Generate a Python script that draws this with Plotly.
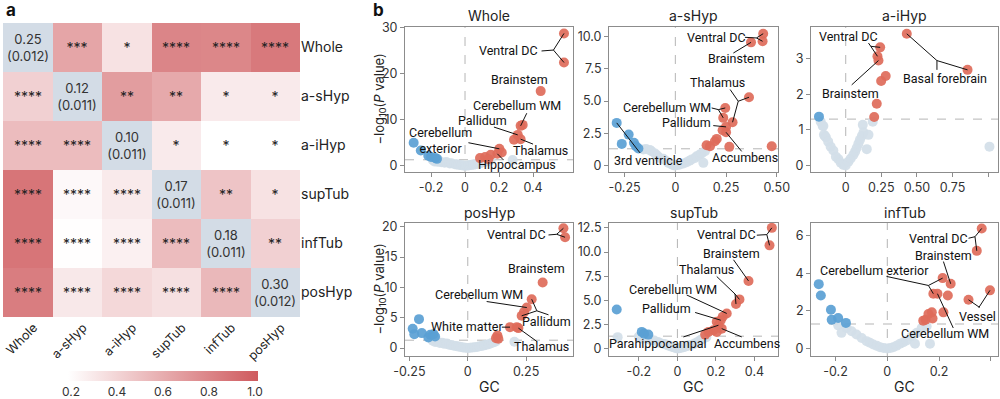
import plotly.graph_objects as go

# ================= Panel a : pairwise heatmap =================
regions = ["Whole", "a-sHyp", "a-iHyp", "supTub", "infTub", "posHyp"]
gen_corr = [
    [None, 0.64, 0.33, 0.80, 0.79, 0.86],
    [0.42, None, 0.68, 0.62, 0.29, 0.29],
    [0.52, 0.52, None, 0.29, 0.18, 0.18],
    [0.88, 0.22, 0.29, None, 0.48, 0.33],
    [0.88, 0.19, 0.26, 0.52, None, 0.42],
    [0.84, 0.30, 0.38, 0.34, 0.54, None],
]
signif = [
    ["", "***", "*", "****", "****", "****"],
    ["****", "", "**", "**", "*", "*"],
    ["****", "****", "", "*", "*", "*"],
    ["****", "****", "****", "", "**", "*"],
    ["****", "****", "****", "****", "", "**"],
    ["****", "****", "****", "****", "****", ""],
]
h2_est = ["0.25", "0.12", "0.10", "0.17", "0.18", "0.30"]
h2_se = ["0.012", "0.011", "0.011", "0.011", "0.011", "0.012"]
cbar_ticks = [0.2, 0.4, 0.6, 0.8, 1.0]

# ================= Panel b : volcano plots =================
panel_names = ["Whole", "a-sHyp", "a-iHyp", "posHyp", "supTub", "infTub"]

# --- Whole
whole_up_gc = [0.582, 0.582, 0.445, 0.327, 0.339, 0.31, 0.327, 0.288, 0.202, 0.19, 0.216, 0.151, 0.118, 0.088, 0.137]
whole_up_logp = [28.7, 22.4, 16.2, 8.66, 8.87, 6.7, 5.77, 5.63, 3.68, 2.6, 2.89, 2.38, 1.88, 1.66, 1.44]
whole_down_gc = [-0.302, -0.26, -0.216, -0.2, -0.175, -0.165]
whole_down_logp = [5.0, 3.3, 2.2, 1.9, 1.7, 1.5]
whole_ns_gc = [-0.19, -0.18, -0.17, -0.16, -0.15, -0.14, -0.12, -0.11, -0.09, -0.08, -0.06, -0.05, -0.04, -0.03,
               -0.02, -0.01, 0.0, 0.01, 0.02, 0.03, 0.04, 0.05, 0.06, 0.07, 0.08, 0.09, 0.1, 0.11, 0.12, 0.14, 0.15, 0.28]
whole_ns_logp = [1.25, 0.95, 1.15, 0.85, 1.05, 0.75, 0.65, 0.8, 0.5, 0.55, 0.35, 0.3, 0.25, 0.15, 0.1, 0.05, 0.02,
                 0.05, 0.08, 0.15, 0.2, 0.25, 0.35, 0.4, 0.5, 0.55, 0.7, 0.8, 0.9, 1.05, 1.2, 1.25]

# --- a-sHyp
ashyp_up_gc = [0.433, 0.43, 0.373, 0.363, 0.246, 0.236, 0.282, 0.25, 0.25, 0.233, 0.204, 0.195, 0.154, 0.171, 0.266, 0.475]
ashyp_up_logp = [10.23, 9.64, 9.56, 5.3, 4.47, 3.7, 3.36, 3.0, 2.58, 2.74, 2.07, 1.89, 1.58, 1.5, 1.45, 1.5]
ashyp_down_gc = [-0.289, -0.23, -0.264, -0.204, -0.194, -0.182]
ashyp_down_logp = [3.31, 2.4, 1.68, 1.76, 1.5, 1.32]
ashyp_ns_gc = [-0.158, -0.144, -0.125, -0.117, -0.1, -0.089, -0.076, -0.059, -0.045, -0.034, -0.02, -0.01, 0.0,
               0.012, 0.023, 0.04, 0.056, 0.07, 0.08, 0.097, 0.105, 0.12, 0.13, 0.138, 0.146]
ashyp_ns_logp = [1.24, 1.29, 1.2, 1.11, 0.93, 0.78, 0.59, 0.52, 0.35, 0.21, 0.1, 0.03, 0.0, 0.04, 0.08, 0.16, 0.26,
                 0.38, 0.47, 0.59, 0.72, 0.85, 0.93, 0.21, 1.11]

# --- a-iHyp
aihyp_up_gc = [0.429, 0.856, 0.242, 0.223, 0.23, 0.281, 0.249, 0.218, 0.2]
aihyp_up_logp = [3.69, 2.68, 3.31, 3.06, 2.94, 2.51, 2.37, 1.73, 1.36]
aihyp_down_gc = [-0.188]
aihyp_down_logp = [1.37]
aihyp_ns_gc = [-0.176, -0.162, -0.157, -0.153, -0.146, -0.139, -0.123, -0.106, -0.087, -0.069, -0.052, -0.035,
               -0.017, 0.0, 0.019, 0.035, 0.054, 0.066, 0.077, 0.089, 0.1, 0.113, 0.12, 0.125, 0.148, 0.16, 0.19, 1.01]
aihyp_ns_logp = [1.23, 1.11, 1.11, 0.86, 0.83, 0.79, 0.67, 0.53, 0.42, 0.25, 0.18, 0.08, 0.02, 0.0, 0.11, 0.2, 0.3,
                 0.39, 0.49, 0.61, 0.72, 0.83, 1.14, 0.93, 0.46, 0.86, 1.23, 0.53]

# --- posHyp
poshyp_up_gc = [0.41, 0.417, 0.321, 0.274, 0.253, 0.241, 0.231, 0.181, 0.21, 0.217, 0.127, 0.121, 0.131]
poshyp_up_logp = [19.73, 18.25, 10.79, 8.05, 6.68, 5.92, 5.32, 3.45, 3.45, 3.29, 2.08, 1.64, 1.53]
poshyp_down_gc = [-0.209, -0.236, -0.229, -0.197, -0.161, -0.169, -0.147, -0.14]
poshyp_down_logp = [4.77, 3.18, 2.3, 2.47, 2.19, 1.75, 2.3, 1.92]
poshyp_ns_gc = [-0.15, -0.14, -0.13, -0.12, -0.11, -0.1, -0.09, -0.08, -0.07, -0.06, -0.05, -0.04, -0.03, -0.02,
                -0.01, 0.0, 0.01, 0.02, 0.03, 0.04, 0.05, 0.06, 0.07, 0.08, 0.09, 0.1, 0.11, 0.12, 0.2]
poshyp_ns_logp = [1.2, 1.0, 1.1, 0.85, 0.9, 0.7, 0.75, 0.55, 0.5, 0.4, 0.35, 0.25, 0.2, 0.12, 0.06, 0.02, 0.05, 0.1,
                  0.15, 0.2, 0.3, 0.35, 0.45, 0.55, 0.65, 0.8, 0.95, 1.1, 1.05]

# --- supTub
suptub_up_gc = [0.49, 0.478, 0.369, 0.322, 0.304, 0.256, 0.235, 0.225, 0.204, 0.213, 0.23, 0.187, 0.161, 0.204, 0.144]
suptub_up_logp = [12.5, 10.69, 7.01, 5.1, 4.62, 3.65, 3.3, 2.95, 2.78, 2.43, 2.08, 1.91, 1.74, 1.74, 1.46]
suptub_down_gc = [-0.315, -0.185, -0.173, -0.151]
suptub_down_logp = [4.06, 1.74, 1.56, 1.46]
suptub_ns_gc = [-0.31, -0.2, -0.18, -0.16, -0.14, -0.12, -0.1, -0.09, -0.07, -0.06, -0.05, -0.04, -0.03, -0.02,
                -0.01, 0.0, 0.01, 0.02, 0.03, 0.04, 0.05, 0.06, 0.08, 0.09, 0.1, 0.11, 0.12, 0.13, 0.15]
suptub_ns_logp = [1.2, 1.25, 1.05, 1.1, 0.9, 0.85, 0.7, 0.6, 0.5, 0.45, 0.35, 0.3, 0.2, 0.15, 0.08, 0.03, 0.05, 0.1,
                  0.15, 0.2, 0.3, 0.35, 0.45, 0.55, 0.65, 0.75, 0.9, 1.0, 1.2]

# --- infTub
inftub_up_gc = [0.365, 0.346, 0.245, 0.214, 0.178, 0.194, 0.234, 0.217, 0.172, 0.159, 0.148, 0.139, 0.175, 0.314, 0.397]
inftub_up_logp = [6.38, 5.19, 3.44, 3.74, 2.91, 2.91, 2.82, 1.92, 1.92, 1.83, 1.53, 1.48, 1.59, 2.59, 3.09]
inftub_down_gc = [-0.265, -0.257, -0.218, -0.215, -0.19, -0.16]
inftub_down_logp = [3.42, 2.82, 2.06, 1.53, 1.62, 1.36]
inftub_ns_gc = [-0.19, -0.177, -0.157, -0.138, -0.119, -0.099, -0.08, -0.067, -0.054, -0.04, -0.028, -0.014, 0.0,
                0.012, 0.023, 0.036, 0.049, 0.062, 0.075, 0.094, 0.107, 0.114, 0.133, 0.152, 0.165]
inftub_ns_logp = [1.23, 0.83, 1.09, 0.92, 0.74, 0.56, 0.39, 0.3, 0.21, 0.14, 0.07, 0.03, 0.0, 0.03, 0.07, 0.15,
                  0.25, 0.33, 0.42, 0.65, 0.25, 0.83, 1.09, 1.18, 0.25]

p_threshold_log = 1.30103  # -log10(0.05)

# ---------------- layout helpers (positions / styles) ----------------
PANELS = [
    dict(up=(whole_up_gc, whole_up_logp), down=(whole_down_gc, whole_down_logp), ns=(whole_ns_gc, whole_ns_logp)),
    dict(up=(ashyp_up_gc, ashyp_up_logp), down=(ashyp_down_gc, ashyp_down_logp), ns=(ashyp_ns_gc, ashyp_ns_logp)),
    dict(up=(aihyp_up_gc, aihyp_up_logp), down=(aihyp_down_gc, aihyp_down_logp), ns=(aihyp_ns_gc, aihyp_ns_logp)),
    dict(up=(poshyp_up_gc, poshyp_up_logp), down=(poshyp_down_gc, poshyp_down_logp), ns=(poshyp_ns_gc, poshyp_ns_logp)),
    dict(up=(suptub_up_gc, suptub_up_logp), down=(suptub_down_gc, suptub_down_logp), ns=(suptub_ns_gc, suptub_ns_logp)),
    dict(up=(inftub_up_gc, inftub_up_logp), down=(inftub_down_gc, inftub_down_logp), ns=(inftub_ns_gc, inftub_ns_logp)),
]

W, H = 1000, 399
XDOM = [(0.405, 0.573), (0.609, 0.778), (0.811, 0.998)]
YDOM = [(1 - 172 / H, 1 - 27 / H), (1 - 356 / H, 1 - 223 / H)]
HM_XDOM = [0.003, 0.300]
HM_YDOM = [1 - 317 / H, 1 - 23 / H]
LABEL_SHIFT = 0.12  # column-label offset, in cell widths

AXES = [
    dict(xr=[-0.353, 0.635], yr=[-1.35, 30.1], xt=[-0.2, 0, 0.2, 0.4], xtt=["-0.2", "0", "0.2", "0.4"],
         yt=[0, 10, 20, 30], ytt=["0", "10", "20", "30"]),
    dict(xr=[-0.327, 0.506], yr=[-0.5, 10.75], xt=[-0.25, 0, 0.25, 0.5], xtt=["-0.25", "0", "0.25", "0.50"],
         yt=[0, 2.5, 5, 7.5, 10], ytt=["0", "2.5", "5.0", "7.5", "10.0"]),
    dict(xr=[-0.244, 1.07], yr=[-0.18, 3.88], xt=[0, 0.25, 0.5, 0.75, 1.0], xtt=["0", "0.25", "0.50", "0.75", "1.00"],
         yt=[0, 1, 2, 3], ytt=["0", "1", "2", "3"]),
    dict(xr=[-0.269, 0.451], yr=[-1.3, 20.6], xt=[-0.25, 0, 0.25], xtt=["-0.25", "0", "0.25"],
         yt=[0, 5, 10, 15, 20], ytt=["0", "5", "10", "15", "20"]),
    dict(xr=[-0.355, 0.522], yr=[-0.75, 13.0], xt=[-0.2, 0, 0.2, 0.4], xtt=["-0.2", "0", "0.2", "0.4"],
         yt=[0, 2.5, 5, 7.5, 10, 12.5], ytt=["0", "2.5", "5.0", "7.5", "10.0", "12.5"]),
    dict(xr=[-0.295, 0.428], yr=[-0.4, 6.67], xt=[-0.2, 0, 0.2, 0.4], xtt=["-0.2", "0", "0.2", "0.4"],
         yt=[0, 2, 4, 6], ytt=["0", "2", "4", "6"]),
]

# label layout: text, text pos, leader start, optional junction, target points (series, index)
LABELS = [
    [  # Whole
        dict(t="Ventral DC", p=(0.255, 24.9), s=(0.45, 24.9), j=(0.52, 25.1), tg=[("up", 0), ("up", 1)]),
        dict(t="Brainstem", p=(0.32, 18.8), s=None, j=None, tg=[]),
        dict(t="Cerebellum WM", p=(0.308, 13.0), s=(0.363, 11.4), j=None, tg=[("up", 3)]),
        dict(t="Pallidum", p=(0.104, 9.8), s=(0.17, 8.4), j=None, tg=[("up", 5)]),
        dict(t="Thalamus", p=(0.445, 3.3), s=(0.40, 4.7), j=None, tg=[("up", 6)]),
        dict(t="Cerebellum<br>exterior", p=(-0.147, 5.4), s=(0.02, 5.0), j=None, tg=[("up", 8)]),
        dict(t="Hippocampus", p=(0.308, 0.36), s=(0.225, 1.3), j=None, tg=[("up", 9)]),
    ],
    [  # a-sHyp
        dict(t="Ventral DC", p=(0.204, 9.9), s=(0.343, 9.95), j=(0.40, 9.9), tg=[("up", 0), ("up", 1)]),
        dict(t="Brainstem", p=(0.302, 8.27), s=(0.286, 8.73), j=None, tg=[("up", 2)]),
        dict(t="Thalamus", p=(0.209, 6.41), s=(0.27, 5.9), j=(0.31, 4.99), tg=[("up", 3), ("up", 6)]),
        dict(t="Cerebellum WM", p=(-0.043, 4.47), s=(0.179, 4.47), j=(0.212, 4.34), tg=[("up", 4), ("up", 5)]),
        dict(t="Pallidum", p=(0.056, 3.36), s=(0.187, 3.1), j=None, tg=[("up", 7)]),
        dict(t="Accumbens", p=(0.343, 0.59), s=(0.327, 1.1), j=None, tg=[("up", 8)]),
        dict(t="3rd ventricle", p=(-0.133, 0.41), s=(-0.174, 0.98), j=None, tg=[("down", 0)]),
    ],
    [  # a-iHyp
        dict(t="Ventral DC", p=(0.019, 3.62), s=(0.16, 3.43), j=(0.176, 3.34), tg=[("up", 2), ("up", 3)]),
        dict(t="Brainstem", p=(0.031, 2.03), s=(0.042, 2.26), j=None, tg=[("up", 4)]),
        dict(t="Basal forebrain", p=(0.70, 2.43), s=(0.641, 2.68), j=(0.641, 2.94), tg=[("up", 0), ("up", 1)]),
    ],
    [  # posHyp
        dict(t="Ventral DC", p=(0.21, 18.63), s=(0.346, 18.63), j=(0.381, 18.74), tg=[("up", 0), ("up", 1)]),
        dict(t="Brainstem", p=(0.293, 13.15), s=None, j=None, tg=[]),
        dict(t="Cerebellum WM", p=(0.046, 8.77), s=(0.081, 7.67), j=None, tg=[("up", 4)]),
        dict(t="Pallidum", p=(0.339, 4.38), s=(0.346, 5.48), j=(0.296, 6.14), tg=[("up", 3), ("up", 6)]),
        dict(t="White matter", p=(-0.004, 3.56), s=(0.146, 3.45), j=None, tg=[("up", 7)]),
        dict(t="Thalamus", p=(0.317, 0.27), s=(0.296, 1.1), j=None, tg=[("up", 9)]),
    ],
    [  # supTub
        dict(t="Ventral DC", p=(0.256, 11.8), s=(0.412, 11.74), j=(0.464, 11.8), tg=[("up", 0), ("up", 1)]),
        dict(t="Brainstem", p=(0.279, 9.83), s=(0.291, 9.2), j=None, tg=[("up", 2)]),
        dict(t="Thalamus", p=(0.152, 8.16), s=(0.204, 7.47), j=(0.299, 5.66), tg=[("up", 3), ("up", 4)]),
        dict(t="Cerebellum WM", p=(-0.021, 6.15), s=(0.048, 5.56), j=None, tg=[("up", 5)]),
        dict(t="Pallidum", p=(-0.055, 4.17), s=(0.092, 3.75), j=None, tg=[("up", 7)]),
        dict(t="Parahippocampal", p=(-0.1, 0.52), s=(0.031, 1.22), j=None, tg=[("up", 9)]),
        dict(t="Accumbens", p=(0.36, 0.52), s=(0.334, 1.22), j=None, tg=[("up", 10)]),
    ],
    [  # infTub
        dict(t="Ventral DC", p=(0.197, 5.86), s=(0.314, 5.86), j=(0.339, 5.94), tg=[("up", 0), ("up", 1)]),
        dict(t="Brainstem", p=(0.217, 4.94), s=(0.217, 4.62), j=None, tg=[("up", 2)]),
        dict(t="Cerebellum exterior", p=(-0.048, 4.13), s=(-0.003, 3.83), j=(0.159, 3.35), tg=[("up", 3), ("up", 4)]),
        dict(t="Cerebellum WM", p=(0.223, 0.78), s=(0.255, 1.09), j=None, tg=[("up", 5)]),
        dict(t="Vessel", p=(0.348, 1.71), s=(0.355, 2.15), j=(0.355, 2.2), tg=[("up", 13), ("up", 14)]),
    ],
]

FONT = "Inter, Roboto, sans-serif"
LBL_FONT = "Roboto, Inter, sans-serif"
RED = "#DE6B5A"
BLUE = "#5A9FD4"
GREY = "#D3DEE8"
AXC = "#8c8c8c"
TXT = "#333333"

fig = go.Figure()
annotations = []
shapes = []

# ---------------- heatmap ----------------
n = len(regions)
diag_z = [[1 if i == j else None for j in range(n)] for i in range(n)]
diag_txt = [[f"{h2_est[i]}<br>({h2_se[i]})" if i == j else " " for j in range(n)] for i in range(n)]
star_txt = [[signif[i][j] if signif[i][j] else " " for j in range(n)] for i in range(n)]

fig.add_trace(go.Heatmap(
    z=gen_corr, x=regions, y=regions, text=star_txt, texttemplate="%{text}",
    textfont=dict(size=14, color="#222", family=FONT),
    colorscale=[[0, "#ffffff"], [1, "#cf5a5e"]], zmin=0.187, zmax=1.013,
    xaxis="x7", yaxis="y7", hoverinfo="skip",
    colorbar=dict(orientation="h", x=0.163, xanchor="center", y=1 - 371 / H, yanchor="top",
                  len=190, lenmode="pixels", thickness=10, outlinewidth=0, xpad=0, ypad=0,
                  tickvals=cbar_ticks, ticktext=[f"{v:.1f}" for v in cbar_ticks], ticks="",
                  tickfont=dict(size=12, color=TXT, family=FONT)),
))
fig.add_trace(go.Heatmap(
    z=diag_z, x=regions, y=regions, text=diag_txt, texttemplate="%{text}",
    textfont=dict(size=13, color="#333", family=FONT),
    colorscale=[[0, "#d3dce6"], [1, "#d3dce6"]], showscale=False,
    xaxis="x7", yaxis="y7", hoverinfo="skip",
))
# empty carrier trace for the column-label axis
fig.add_trace(go.Scatter(x=[], y=[], xaxis="x8", yaxis="y7", mode="markers", showlegend=False,
                         hoverinfo="skip"))

# ---------------- volcano panels ----------------
for k, pdat in enumerate(PANELS):
    idx = k + 1
    xa = "x" if idx == 1 else f"x{idx}"
    ya = "y" if idx == 1 else f"y{idx}"
    for key, col in (("ns", GREY), ("down", BLUE), ("up", RED)):
        gx, gy = pdat[key]
        fig.add_trace(go.Scatter(x=gx, y=gy, mode="markers", xaxis=xa, yaxis=ya,
                                 marker=dict(size=10, color=col, opacity=0.92, line=dict(width=0)),
                                 hoverinfo="skip", showlegend=False))
    shapes.append(dict(type="line", xref=f"{xa} domain", yref=ya, x0=0, x1=1,
                       y0=p_threshold_log, y1=p_threshold_log,
                       line=dict(color="#b5b5b5", width=1, dash="dash"), layer="below"))
    shapes.append(dict(type="line", xref=xa, yref=f"{ya} domain", x0=0, x1=0, y0=0, y1=1,
                       line=dict(color="#b5b5b5", width=1, dash="dash"), layer="below"))
    lx, ly = [], []
    for lab in LABELS[k]:
        if lab["s"] is None or not lab["tg"]:
            continue
        sx, sy = lab["s"]
        if lab["j"] is not None:
            jx, jy = lab["j"]
            lx += [sx, jx, None]
            ly += [sy, jy, None]
        else:
            jx, jy = sx, sy
        for ser, i in lab["tg"]:
            px, py = pdat[ser][0][i], pdat[ser][1][i]
            lx += [jx, px, None]
            ly += [jy, py, None]
    fig.add_trace(go.Scatter(x=lx, y=ly, mode="lines", xaxis=xa, yaxis=ya,
                             line=dict(color="#111", width=1), hoverinfo="skip", showlegend=False))
    for lab in LABELS[k]:
        annotations.append(dict(text=lab["t"], x=lab["p"][0], y=lab["p"][1], xref=xa, yref=ya,
                                xanchor="center", yanchor="middle",
                                showarrow=False, font=dict(size=12.5, color="#111", family=LBL_FONT),
                                align="center"))

# ---------------- layout ----------------
layout = dict(
    template="none",
    width=W, height=H, margin=dict(l=0, r=0, t=0, b=0, pad=0, autoexpand=False),
    paper_bgcolor="white", plot_bgcolor="white", showlegend=False,
    font=dict(family=FONT, color=TXT),
)
for k in range(6):
    idx = k + 1
    row, col = k // 3, k % 3
    ax = AXES[k]
    xkey = "xaxis" if idx == 1 else f"xaxis{idx}"
    ykey = "yaxis" if idx == 1 else f"yaxis{idx}"
    common = dict(showline=True, mirror=True, linecolor=AXC, linewidth=1, ticks="outside", ticklen=4,
                  tickcolor=AXC, showgrid=False, zeroline=False, automargin=False,
                  tickfont=dict(size=12.5, color=TXT, family=FONT))
    layout[xkey] = dict(domain=list(XDOM[col]), anchor="y" if idx == 1 else f"y{idx}", range=ax["xr"],
                        tickvals=ax["xt"], ticktext=ax["xtt"], **common)
    layout[ykey] = dict(domain=list(YDOM[row]), anchor="x" if idx == 1 else f"x{idx}", range=ax["yr"],
                        tickvals=ax["yt"], ticktext=ax["ytt"], **common)
    annotations.append(dict(text=panel_names[k], xref="paper", yref="paper",
                            x=(XDOM[col][0] + XDOM[col][1]) / 2, y=1 - (15 if row == 0 else 212) / H,
                            xanchor="center", yanchor="middle", showarrow=False,
                            font=dict(size=14, color="#222", family=FONT)))
    if row == 1:
        annotations.append(dict(text="GC", xref="paper", yref="paper",
                                x=(XDOM[col][0] + XDOM[col][1]) / 2, y=1 - 386 / H,
                                xanchor="center", yanchor="middle", showarrow=False,
                                font=dict(size=14, color="#222", family=FONT)))

for row in range(2):
    annotations.append(dict(text="−log<sub>10</sub>(<i>P</i> value)", xref="paper", yref="paper",
                            x=0.379, y=(YDOM[row][0] + YDOM[row][1]) / 2, textangle=-90,
                            xanchor="center", yanchor="middle",
                            showarrow=False, font=dict(size=13, color="#222", family=FONT)))

layout["xaxis7"] = dict(domain=HM_XDOM, anchor="y7", showticklabels=False, ticks="", showgrid=False,
                        zeroline=False, showline=False, automargin=False)
layout["xaxis8"] = dict(domain=HM_XDOM, anchor="y7", overlaying="x7", side="bottom", type="linear",
                        range=[-0.5 - LABEL_SHIFT, n - 0.5 - LABEL_SHIFT],
                        tickvals=list(range(n)), ticktext=regions, tickangle=-45, ticks="",
                        showgrid=False, zeroline=False, showline=False, automargin=False,
                        tickfont=dict(size=12.5, color="#222", family=FONT))
layout["yaxis7"] = dict(domain=HM_YDOM, anchor="x7", side="right", autorange="reversed",
                        ticks="", showgrid=False, zeroline=False, showline=False, automargin=False,
                        tickfont=dict(size=14, color="#222", family=FONT))

annotations.append(dict(text="<b>a</b>", xref="paper", yref="paper", x=0.004, y=1 - 10 / H,
                        xanchor="left", yanchor="middle",
                        showarrow=False, font=dict(size=17, color="#111", family=FONT)))
annotations.append(dict(text="<b>b</b>", xref="paper", yref="paper", x=0.371, y=1 - 10 / H,
                        xanchor="left", yanchor="middle",
                        showarrow=False, font=dict(size=17, color="#111", family=FONT)))

layout["annotations"] = annotations
layout["shapes"] = shapes
fig.update_layout(**layout)
fig.write_html("out.html", config={"displayModeBar": False},
               post_script="document.body.style.margin='0px';")
